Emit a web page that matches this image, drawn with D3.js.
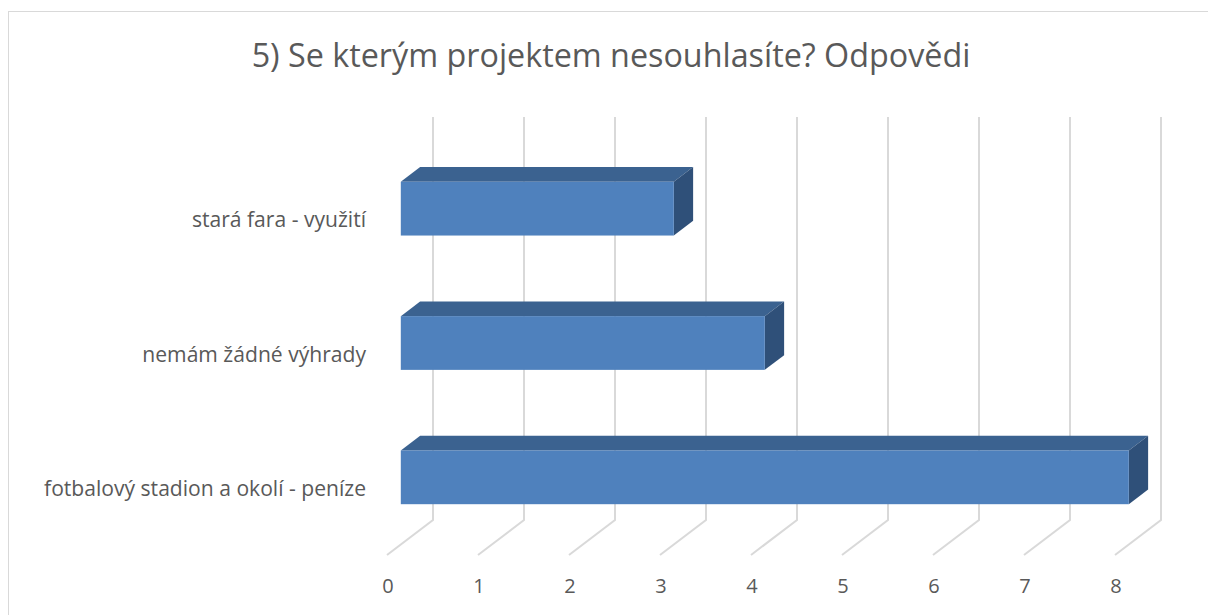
<!DOCTYPE html>
<html>
<head>
<meta charset="utf-8">
<script src="https://cdn.jsdelivr.net/npm/d3@7"></script>
<style>
  body { margin: 0; background: #fff; }
  text { font-family: "Open Sans", "Noto Sans", sans-serif; fill: #595959; }
</style>
</head>
<body>
<div id="chart"></div>
<script>
// data
const categories = ["stará fara - využití", "nemám žádné výhrady", "fotbalový stadion a okolí - peníze"];
const values = [3, 4, 8];
const ticks = [0, 1, 2, 3, 4, 5, 6, 7, 8];
const title = "5) Se kterým projektem nesouhlasíte? Odpovědi";

const W = 1208, H = 615;
const svg = d3.select("#chart").append("svg")
    .attr("width", W).attr("height", H);

// chart border (runs off the right / bottom edge)
svg.append("rect")
    .attr("x", 8.5).attr("y", 11.5)
    .attr("width", 1220).attr("height", 640)
    .attr("fill", "#fff").attr("stroke", "#d9d9d9").attr("stroke-width", 1);

// 3D depth: front plane -> back wall offset
const depth = { dx: 46, dy: -35 };
const off = t => [depth.dx * t, depth.dy * t];

// scales on the front plane
const x = d3.scaleLinear().domain([0, 8]).range([387, 1115]);
const y = d3.scaleBand().domain(categories).range([152, 555]).paddingInner(0.6).paddingOuter(0.3);

const floorY = 555;
const wallTop = 152;

// gridlines: back wall vertical + floor diagonal
const grid = svg.append("g");
ticks.forEach(v => {
    const [bx, by] = off(1);
    grid.append("path")
        .attr("d", `M${x(v) + bx},${wallTop + by} L${x(v) + bx},${floorY + by} L${x(v)},${floorY}`)
        .attr("fill", "none")
        .attr("stroke", "#d9d9d9")
        .attr("stroke-width", 2);
});

// tick labels
svg.append("g").selectAll("text")
    .data(ticks).enter().append("text")
    .attr("x", d => x(d) + 1)
    .attr("y", 593)
    .attr("text-anchor", "middle")
    .style("font-size", "20px")
    .text(d => d);

// bars
const tF = 0.30, tB = 0.72;
const [fx, fy] = off(tF);
const [kx, ky] = off(tB);
const bars = svg.append("g");
categories.forEach((c, i) => {
    const x0 = x(0) + fx, x1 = x(values[i]) + fx;
    const y0 = y(c) + fy, y1 = y(c) + y.bandwidth() + fy;
    const ddx = kx - fx, ddy = ky - fy;
    // top face
    bars.append("path")
        .attr("d", `M${x0},${y0} L${x1},${y0} L${x1 + ddx},${y0 + ddy} L${x0 + ddx},${y0 + ddy} Z`)
        .attr("fill", "#3b6290");
    // side face
    bars.append("path")
        .attr("d", `M${x1},${y0} L${x1 + ddx},${y0 + ddy} L${x1 + ddx},${y1 + ddy} L${x1},${y1} Z`)
        .attr("fill", "#2f5079");
    // front face
    bars.append("rect")
        .attr("x", x0).attr("y", y0)
        .attr("width", x1 - x0).attr("height", y1 - y0)
        .attr("fill", "#4f81bd");
});

// category labels
const labels = svg.append("g").selectAll("text")
    .data(categories).enter().append("text")
    .attr("x", 366)
    .attr("y", d => y(d) + y.bandwidth() / 2 + 8)
    .attr("text-anchor", "end")
    .style("font-size", "16px")
    .text(d => d);

// fit label width to the reference (longest label ~322px)
const longest = labels.filter((d, i) => i === 2).node().getComputedTextLength();
labels.style("font-size", (16 * 322 / longest).toFixed(2) + "px");

// title
const t = svg.append("text")
    .attr("x", 611).attr("y", 67)
    .attr("text-anchor", "middle")
    .style("font-size", "29px")
    .text(title);
const tw = t.node().getComputedTextLength();
t.style("font-size", (29 * 719 / tw).toFixed(2) + "px");
</script>
</body>
</html>
